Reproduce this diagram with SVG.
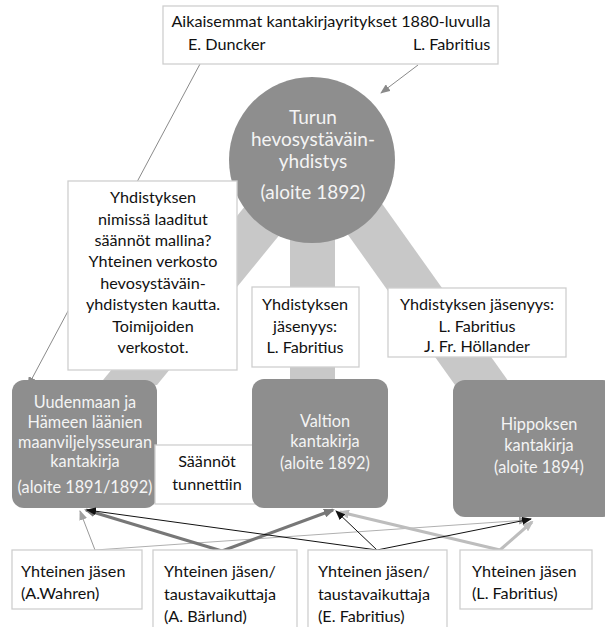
<svg xmlns="http://www.w3.org/2000/svg" width="605" height="627" viewBox="0 0 605 627">
<style>
  text { font-family: Lato, "Open Sans", "Liberation Sans", sans-serif; }
  .lbl { fill: #ffffff; stroke: #cfcfcf; stroke-width: 1.3; }
  .node { fill: #8e8e8e; }
  .band { fill: #c8c8c8; }
  .wt { fill: #f4f4f4; font-size: 16.3px; text-anchor: middle; }
  .bt { fill: #111111; font-size: 16.2px; }
  .btc { fill: #111111; font-size: 16.2px; text-anchor: middle; }
  .ct { fill: #f4f4f4; font-size: 19px; text-anchor: middle; }
</style>
<defs>
  <marker id="ah-gray" markerUnits="userSpaceOnUse" markerWidth="10" markerHeight="8" refX="9" refY="4" orient="auto"><path d="M0,0 L10,4 L0,8 z" fill="#8a8a8a"/></marker>
  <marker id="ah-black" markerUnits="userSpaceOnUse" markerWidth="10" markerHeight="8" refX="9" refY="4" orient="auto"><path d="M0,0 L10,4 L0,8 z" fill="#111111"/></marker>
  <marker id="ah-dark" markerUnits="userSpaceOnUse" markerWidth="11" markerHeight="9" refX="9" refY="4.5" orient="auto"><path d="M0,0 L11,4.5 L0,9 z" fill="#777777"/></marker>
  <marker id="ah-light" markerUnits="userSpaceOnUse" markerWidth="11" markerHeight="9" refX="9" refY="4.5" orient="auto"><path d="M0,0 L11,4.5 L0,9 z" fill="#bdbdbd"/></marker>
  <marker id="ah-thin" markerUnits="userSpaceOnUse" markerWidth="10" markerHeight="8" refX="9" refY="4" orient="auto"><path d="M0,0 L10,4 L0,8 z" fill="#a0a0a0"/></marker>
</defs>

<g id="bands">
  <polygon class="band" points="292.6,147.8 327.4,176.2 157,385 99,385"/>
  <rect class="band" x="290" y="200" width="45" height="185"/>
  <polygon class="band" points="311.3,183.3 348.7,156.7 511,385 455,385"/>
</g>

<g id="connectors-top" fill="none">
  <line x1="200" y1="64" x2="28" y2="386" stroke="#8a8a8a" stroke-width="1" marker-end="url(#ah-gray)"/>
  <line x1="418" y1="65" x2="381" y2="93" stroke="#8a8a8a" stroke-width="1" marker-end="url(#ah-gray)"/>
</g>

<g id="top-box">
  <rect class="lbl" x="163" y="6" width="335" height="58"/>
  <text class="bt" x="331" y="27" text-anchor="middle">Aikaisemmat kantakirjayritykset 1880-luvulla</text>
  <text class="bt" x="188" y="50">E. Duncker</text>
  <text class="bt" x="413" y="50">L. Fabritius</text>
</g>

<g id="turku">
  <circle class="node" cx="312" cy="160" r="83"/>
  <text class="ct" x="313" y="124">Turun</text>
  <text class="ct" x="313" y="146">hevosystäväin-</text>
  <text class="ct" x="313" y="168">yhdistys</text>
  <text class="ct" x="313" y="199">(aloite 1892)</text>
</g>

<g id="note-left">
  <rect class="lbl" x="68" y="181" width="169" height="189"/>
  <text class="btc" x="153" y="203">Yhdistyksen</text>
  <text class="btc" x="153" y="225">nimissä laaditut</text>
  <text class="btc" x="153" y="246">säännöt mallina?</text>
  <text class="btc" x="153" y="267">Yhteinen verkosto</text>
  <text class="btc" x="153" y="289">hevosystäväin-</text>
  <text class="btc" x="153" y="310">yhdistysten kautta.</text>
  <text class="btc" x="153" y="332">Toimijoiden</text>
  <text class="btc" x="153" y="353">verkostot.</text>
</g>

<g id="note-mid">
  <rect class="lbl" x="252" y="287" width="107" height="80"/>
  <text class="btc" x="305" y="310">Yhdistyksen</text>
  <text class="btc" x="305" y="332">jäsenyys:</text>
  <text class="btc" x="305" y="353">L. Fabritius</text>
</g>

<g id="note-right">
  <rect class="lbl" x="388" y="288" width="178" height="69"/>
  <text class="btc" x="477" y="310">Yhdistyksen jäsenyys:</text>
  <text class="btc" x="477" y="332">L. Fabritius</text>
  <text class="btc" x="477" y="352">J. Fr. Höllander</text>
</g>

<g id="uusimaa">
  <rect class="node" x="12" y="380" width="145" height="128" rx="12"/>
  <text class="wt" x="85" y="408">Uudenmaan ja</text>
  <text class="wt" x="85" y="428">Hämeen läänien</text>
  <text class="wt" x="85" y="448">maanviljelysseuran</text>
  <text class="wt" x="85" y="467">kantakirja</text>
  <text class="wt" x="85" y="493">(aloite 1891/1892)</text>
</g>

<g id="saannot">
  <rect class="lbl" x="155" y="445" width="100" height="59"/>
  <text class="btc" x="207" y="467">Säännöt</text>
  <text class="btc" x="207" y="490">tunnettiin</text>
</g>

<g id="valtion">
  <rect class="node" x="252" y="379" width="136" height="129" rx="12"/>
  <text class="wt" x="325" y="427">Valtion</text>
  <text class="wt" x="325" y="447">kantakirja</text>
  <text class="wt" x="325" y="469">(aloite 1892)</text>
</g>

<g id="hippos">
  <rect class="node" x="453" y="380" width="162" height="137" rx="12"/>
  <text class="wt" x="539" y="430">Hippoksen</text>
  <text class="wt" x="539" y="451">kantakirja</text>
  <text class="wt" x="539" y="473">(aloite 1894)</text>
</g>

<g id="connectors-bottom" fill="none">
  <line x1="95" y1="550" x2="528" y2="520" stroke="#b0b0b0" stroke-width="1" marker-end="url(#ah-thin)"/>
  <line x1="95" y1="550" x2="80" y2="511" stroke="#999999" stroke-width="1" marker-end="url(#ah-thin)"/>
  <line x1="500" y1="550" x2="340" y2="512" stroke="#bdbdbd" stroke-width="3" marker-end="url(#ah-light)"/>
  <line x1="500" y1="550" x2="532" y2="522" stroke="#bdbdbd" stroke-width="3" marker-end="url(#ah-light)"/>
  <line x1="222" y1="551" x2="86" y2="510" stroke="#777777" stroke-width="3" marker-end="url(#ah-dark)"/>
  <line x1="222" y1="551" x2="333" y2="510" stroke="#777777" stroke-width="3" marker-end="url(#ah-dark)"/>
  <line x1="377" y1="550" x2="87" y2="510" stroke="#111111" stroke-width="1" marker-end="url(#ah-black)"/>
  <line x1="377" y1="550" x2="336" y2="511" stroke="#111111" stroke-width="1" marker-end="url(#ah-black)"/>
  <line x1="377" y1="550" x2="531" y2="519" stroke="#111111" stroke-width="1" marker-end="url(#ah-black)"/>
</g>

<g id="member-wahren">
  <rect class="lbl" x="12" y="550" width="130" height="59"/>
  <text class="bt" x="21" y="577">Yhteinen jäsen</text>
  <text class="bt" x="21" y="599">(A.Wahren)</text>
</g>

<g id="member-barlund">
  <rect class="lbl" x="153" y="550" width="144" height="78"/>
  <text class="bt" x="164" y="577">Yhteinen jäsen/</text>
  <text class="bt" x="164" y="600">taustavaikuttaja</text>
  <text class="bt" x="164" y="622">(A. Bärlund)</text>
</g>

<g id="member-efabritius">
  <rect class="lbl" x="308" y="550" width="139" height="78"/>
  <text class="bt" x="318" y="577">Yhteinen jäsen/</text>
  <text class="bt" x="318" y="600">taustavaikuttaja</text>
  <text class="bt" x="318" y="622">(E. Fabritius)</text>
</g>

<g id="member-lfabritius">
  <rect class="lbl" x="460" y="550" width="132" height="59"/>
  <text class="bt" x="472" y="577">Yhteinen jäsen</text>
  <text class="bt" x="472" y="599">(L. Fabritius)</text>
</g>
</svg>
